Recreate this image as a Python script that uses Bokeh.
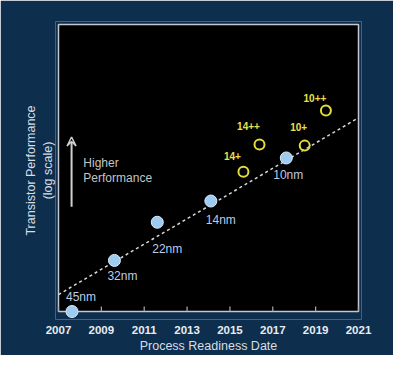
from bokeh.plotting import figure
from bokeh.models import (ColumnDataSource, Range1d, FixedTicker, LinearAxis, Arrow,
                          VeeHead, BoxAnnotation)
from bokeh.core.properties import value
from bokeh.embed import file_html
from bokeh.resources import INLINE

# ---- data ----
node_names = ["45nm", "32nm", "22nm", "14nm", "10nm"]
node_years = [2007.63, 2009.61, 2011.61, 2014.11, 2017.63]
node_perf = [0.0, 1.78, 3.11, 3.85, 5.35]

plus_names = ["14+", "14++", "10+", "10++"]
plus_years = [2015.63, 2016.38, 2018.49, 2019.48]
plus_perf = [4.87, 5.82, 5.78, 7.00]

trend_years = [2007, 2021]
trend_perf = [0.59, 6.75]

year_ticks = [2007, 2009, 2011, 2013, 2015, 2017, 2019, 2021]

# ---- layout / styling (not data) ----
X0, X1 = 2007, 2021
Y0, Y1 = 0, 10
W, H = 393, 355
BOX_L, BOX_R, BOX_T, BOX_B = 58, 358, 24, 312       # visible black box in canvas px
PAD_SIDE, PAD_BOTTOM = 3, 8
pxx = (BOX_R - BOX_L) / (X1 - X0)
pxy = (BOX_B - BOX_T) / (Y1 - Y0)

node_dx = [9, 8, 10, 10, 2]
node_dy = [-15, 16, 27, 19, 17]
plus_dx = [-11, -11, -6, -11]
plus_dy = [-16, -18, -19, -13]

FONT = "Liberation Sans"
BG = "#0d2f4d"
EDGE = "#c4c8ce"

p = figure(width=W, height=H, output_backend="svg", toolbar_location=None,
           x_range=Range1d(X0 - PAD_SIDE / pxx, X1 + PAD_SIDE / pxx),
           y_range=Range1d(Y0 - PAD_BOTTOM / pxy, Y1 + PAD_SIDE / pxy),
           min_border_left=BOX_L - PAD_SIDE, min_border_right=W - BOX_R - PAD_SIDE,
           min_border_top=BOX_T - PAD_SIDE, min_border_bottom=H - BOX_B - PAD_BOTTOM,
           y_axis_location=None, x_axis_location=None)
p.background_fill_color = BG
p.border_fill_color = BG
p.outline_line_color = None
p.grid.visible = False

# black plotting box with grey border
p.add_layout(BoxAnnotation(left=X0, right=X1, bottom=Y0, top=Y1, fill_color="black", fill_alpha=1,
                           line_color=EDGE, line_width=1.5, line_alpha=1, level="underlay"))

xa = LinearAxis(ticker=FixedTicker(ticks=year_ticks), axis_label="Process Readiness Date")
xa.axis_line_color = None
xa.major_tick_line_color = None
xa.minor_tick_line_color = None
xa.major_label_text_color = "#e8ecf2"
xa.major_label_text_font = FONT
xa.major_label_text_font_size = "11.5px"
xa.major_label_text_font_style = "bold"
xa.major_label_standoff = 0
xa.axis_label_text_color = "#d8dde6"
xa.axis_label_text_font = FONT
xa.axis_label_text_font_size = "12.5px"
xa.axis_label_text_font_style = "normal"
xa.axis_label_standoff = 2
p.add_layout(xa, "below")

ya = LinearAxis(ticker=FixedTicker(ticks=[]), axis_label="Transistor Performance\n(log scale)")
ya.axis_line_color = None
ya.major_tick_line_color = None
ya.minor_tick_line_color = None
ya.axis_label_text_color = "#d8dde6"
ya.axis_label_text_font = FONT
ya.axis_label_text_font_size = "12.5px"
ya.axis_label_text_font_style = "normal"
ya.axis_label_standoff = 1
p.add_layout(ya, "left")

# inward tick marks on the bottom edge of the box
tick_len = 5 / pxy
p.segment(x0=year_ticks, y0=[Y0] * len(year_ticks), x1=year_ticks, y1=[Y0 + tick_len] * len(year_ticks),
          line_color="#a8acb2", line_width=1.2)

# trend line
p.line(trend_years, trend_perf, line_color="#d8d8d8", line_width=1.5, line_dash="3 3")

# arrow + note
p.add_layout(Arrow(end=VeeHead(size=9, line_color="#d0d0d0", line_width=1.5),
                   x_start=2007.61, y_start=3.65, x_end=2007.61, y_end=6.08,
                   line_color="#d0d0d0", line_width=2))
p.text(x=[2008.16, 2008.16], y=[5.18, 4.65], text=["Higher", "Performance"],
       text_font=value(FONT), text_font_size="12px", text_color="#c4c4c4",
       text_align="left", text_baseline="middle")

node_src = ColumnDataSource(dict(x=node_years, y=node_perf, name=node_names, dx=node_dx, dy=node_dy))
plus_src = ColumnDataSource(dict(x=plus_years, y=plus_perf, name=plus_names, dx=plus_dx, dy=plus_dy))

p.scatter("x", "y", source=node_src, size=12, fill_color="#9ecbf0", line_color="#dcecfc", line_width=1)
p.scatter("x", "y", source=plus_src, size=10, fill_color=None, line_color="#e4dc3c", line_width=2)

p.text("x", "y", text="name", source=node_src, x_offset="dx", y_offset="dy",
       text_font=value(FONT), text_font_size="12px", text_color="#bccbe8",
       text_align="center", text_baseline="middle")
p.text("x", "y", text="name", source=plus_src, x_offset="dx", y_offset="dy",
       text_font=value(FONT), text_font_size="10px", text_font_style="bold", text_color="#e8e04a",
       text_align="center", text_baseline="middle")

open("out.html", "w").write(file_html(p, INLINE))
